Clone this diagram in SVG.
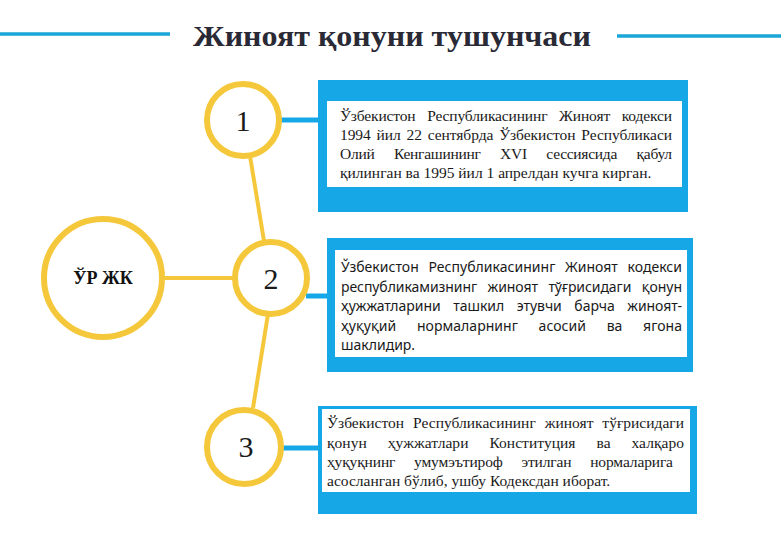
<svg xmlns="http://www.w3.org/2000/svg" width="781" height="540" viewBox="0 0 781 540">
<style>
.title{font-family:"Liberation Serif",serif;font-weight:bold;font-size:30px;fill:#2a2a36}
.rule{stroke:#1aa6d6;stroke-width:3.5}
.blue{fill:#16a8e6}
.inner{fill:#ffffff}
.ring{fill:#ffffff;stroke:#f5c83c;stroke-width:6}
.ylink{stroke:#f5c83c;stroke-width:4;fill:none}
.blink{stroke:#16a8e6;stroke-width:5;fill:none}
.num{font-family:"Liberation Serif",serif;font-size:30px;fill:#1a1a1a;text-anchor:middle}
.hub{font-family:"Liberation Serif",serif;font-weight:bold;font-size:18px;fill:#111;text-anchor:middle}
.body{font-family:"Liberation Serif",serif;font-size:15.5px;fill:#1a1a1a}
.body2{font-family:"Noto Sans",sans-serif;font-size:14px;fill:#1a1a1a}
</style>
<rect width="781" height="540" fill="#ffffff"/>
<g id="title">
<line class="rule" x1="0" y1="34" x2="170" y2="34"/>
<line class="rule" x1="617" y1="36" x2="781" y2="36"/>
<text class="title" x="193" y="46" textLength="398" lengthAdjust="spacingAndGlyphs">Жиноят қонуни тушунчаси</text>
</g>
<g id="connectors">
<line class="ylink" x1="250" y1="156" x2="264" y2="241"/>
<line class="ylink" x1="268" y1="314" x2="253" y2="408"/>
<line class="ylink" x1="164" y1="278" x2="234" y2="278"/>
<line class="blink" x1="281" y1="120" x2="319" y2="120"/>
<line class="blink" x1="306" y1="296" x2="328" y2="296"/>
<line class="blink" x1="282" y1="448" x2="319" y2="448"/>
</g>
<g id="hub">
<circle class="ring" cx="103" cy="278" r="59"/>
<text class="hub" x="103" y="284">ЎР ЖК</text>
</g>
<g id="node1">
<circle class="ring" cx="243" cy="120" r="36"/>
<text class="num" x="243" y="131">1</text>
</g>
<g id="node2">
<circle class="ring" cx="271" cy="278" r="36"/>
<text class="num" x="271" y="289">2</text>
</g>
<g id="node3">
<circle class="ring" cx="244" cy="447" r="37"/>
<text class="num" x="246" y="457">3</text>
</g>
<g id="box1">
<rect class="blue" x="318" y="80" width="370" height="132"/>
<rect class="inner" x="327" y="101" width="355" height="86"/>
<text class="body" x="340" y="121" word-spacing="8" textLength="332" lengthAdjust="spacing">Ўзбекистон Республикасининг Жиноят кодекси</text>
<text class="body" x="340" y="140" word-spacing="2" textLength="332" lengthAdjust="spacing">1994 йил 22 сентябрда Ўзбекистон Республикаси</text>
<text class="body" x="340" y="159" word-spacing="16" textLength="332" lengthAdjust="spacing">Олий Кенгашининг XVI сессиясида қабул</text>
<text class="body" x="340" y="178">қилинган ва 1995 йил 1 апрелдан кучга кирган.</text>
</g>
<g id="box2">
<rect class="blue" x="327" y="238" width="366" height="134"/>
<rect class="inner" x="335" y="250" width="352" height="107"/>
<text class="body2" x="341" y="272" word-spacing="6" textLength="341" lengthAdjust="spacing">Ўзбекистон Республикасининг Жиноят кодекси</text>
<text class="body2" x="341" y="292" word-spacing="7" textLength="341" lengthAdjust="spacing">республикамизнинг жиноят тўғрисидаги қонун</text>
<text class="body2" x="341" y="311" word-spacing="9" textLength="341" lengthAdjust="spacing">ҳужжатларини ташкил этувчи барча жиноят-</text>
<text class="body2" x="341" y="331" word-spacing="17" textLength="341" lengthAdjust="spacing">ҳуқуқий нормаларнинг асосий ва ягона</text>
<text class="body2" x="341" y="350">шаклидир.</text>
</g>
<g id="box3">
<rect class="blue" x="318" y="406" width="379" height="108"/>
<rect class="inner" x="322" y="409" width="368" height="83"/>
<text class="body" x="327" y="428" word-spacing="5" textLength="357" lengthAdjust="spacing">Ўзбекистон Республикасининг жиноят тўғрисидаги</text>
<text class="body" x="327" y="448" word-spacing="17" textLength="357" lengthAdjust="spacing">қонун ҳужжатлари Конституция ва халқаро</text>
<text class="body" x="327" y="467" word-spacing="15" textLength="346" lengthAdjust="spacing">ҳуқуқнинг умумэътироф этилган нормаларига</text>
<text class="body" x="327" y="486">асосланган бўлиб, ушбу Кодексдан иборат.</text>
</g>
</svg>
